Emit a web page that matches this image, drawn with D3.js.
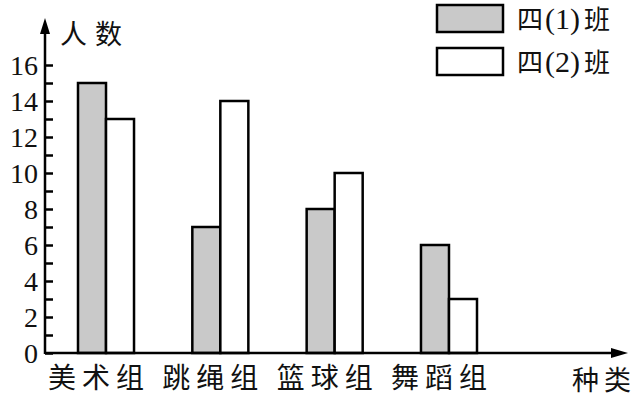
<!DOCTYPE html>
<html>
<head>
<meta charset="utf-8">
<script src="https://cdn.jsdelivr.net/npm/d3@7"></script>
<style>
  html, body { margin: 0; padding: 0; background: #fff; }
  svg { display: block; }
</style>
</head>
<body>
<div id="chart"></div>
<script>
// data
var categories = ["美术组", "跳绳组", "篮球组", "舞蹈组"];
var seriesNames = [["四", "(1)", "班"], ["四", "(2)", "班"]];
var class1 = [15, 7, 8, 6];
var class2 = [13, 14, 10, 3];
var yTickValues = d3.range(0, 17, 1);
var yLabelValues = [0, 2, 4, 6, 8, 10, 12, 14, 16];

var cnFont = "Noto Sans CJK SC";
var numFont = "Liberation Serif";

var width = 644, height = 395;
var originX = 45, originY = 353;

var svg = d3.select("#chart").append("svg")
    .attr("width", width)
    .attr("height", height);

var y = d3.scaleLinear().domain([0, 16]).range([originY, 65]);

var x0 = d3.scaleBand()
    .domain(categories)
    .range([78, 477])
    .paddingInner(0.51)
    .paddingOuter(0);

var x1 = d3.scaleBand()
    .domain([0, 1])
    .range([0, x0.bandwidth()]);

var fills = ["#c9c9c9", "#ffffff"];

// text with its font set on the element itself
function label(x, yy, txt, font, size, extra) {
    var t = svg.append("text")
        .attr("x", x).attr("y", yy)
        .attr("font-family", font)
        .attr("font-size", size)
        .attr("fill", "#111");
    extra = extra || {};
    Object.keys(extra).forEach(function (k) { t.attr(k, extra[k]); });
    t.text(txt);
    return t;
}

// bars
var rows = categories.map(function (c, i) {
    return {cat: c, values: [class1[i], class2[i]]};
});

var groups = svg.append("g").selectAll("g.group")
    .data(rows).enter().append("g")
    .attr("class", "group")
    .attr("transform", function (d) { return "translate(" + x0(d.cat) + ",0)"; });

groups.selectAll("rect")
    .data(function (d) { return d.values.map(function (v, k) { return {k: k, v: v}; }); })
    .enter().append("rect")
    .attr("x", function (d) { return x1(d.k); })
    .attr("y", function (d) { return y(d.v); })
    .attr("width", x1.bandwidth())
    .attr("height", function (d) { return originY - y(d.v); })
    .attr("fill", function (d) { return fills[d.k]; })
    .attr("stroke", "#000")
    .attr("stroke-width", 2.5);

// y axis: tick marks from the axis, labels drawn separately
var yAxis = d3.axisLeft(y)
    .tickValues(yTickValues)
    .tickSizeInner(-8)
    .tickSizeOuter(0)
    .tickFormat("");

var gy = svg.append("g")
    .attr("transform", "translate(" + originX + ",0)")
    .call(yAxis);
gy.select(".domain").remove();
gy.selectAll(".tick text").remove();
gy.selectAll(".tick line").attr("stroke", "#000").attr("stroke-width", 2.5);

yLabelValues.forEach(function (v) {
    label(originX - 7, y(v), String(v), numFont, 28, {"text-anchor": "end", "dy": "0.34em"});
});

// axis lines with arrows
svg.append("line")
    .attr("x1", originX).attr("y1", originY + 1)
    .attr("x2", originX).attr("y2", 30)
    .attr("stroke", "#000").attr("stroke-width", 2.5);
svg.append("path")
    .attr("d", "M" + originX + ",18 L" + (originX - 5) + ",34 L" + (originX + 5) + ",34 Z")
    .attr("fill", "#000");

svg.append("line")
    .attr("x1", originX).attr("y1", originY)
    .attr("x2", 615).attr("y2", originY)
    .attr("stroke", "#000").attr("stroke-width", 2.5);
svg.append("path")
    .attr("d", "M628," + originY + " L611," + (originY - 5) + " L611," + (originY + 5) + " Z")
    .attr("fill", "#000");

// category labels
categories.forEach(function (c) {
    label(x0(c) + x0.bandwidth() / 2 - 7, 388, c, cnFont, 28,
        {"text-anchor": "middle", "letter-spacing": 6});
});

// axis titles
label(60, 44, "人数", cnFont, 27, {"letter-spacing": 8});
label(572, 390, "种类", cnFont, 27, {"letter-spacing": 5});

// legend
seriesNames.forEach(function (parts, i) {
    var top = 5 + i * 43, base = top + 24;
    svg.append("rect")
        .attr("x", 437).attr("y", top)
        .attr("width", 66).attr("height", 27)
        .attr("fill", fills[i])
        .attr("stroke", "#000")
        .attr("stroke-width", 2.5);
    label(517, base, parts[0], cnFont, 26);
    label(545, base, parts[1], numFont, 30);
    label(584, base, parts[2], cnFont, 26);
});
</script>
</body>
</html>
